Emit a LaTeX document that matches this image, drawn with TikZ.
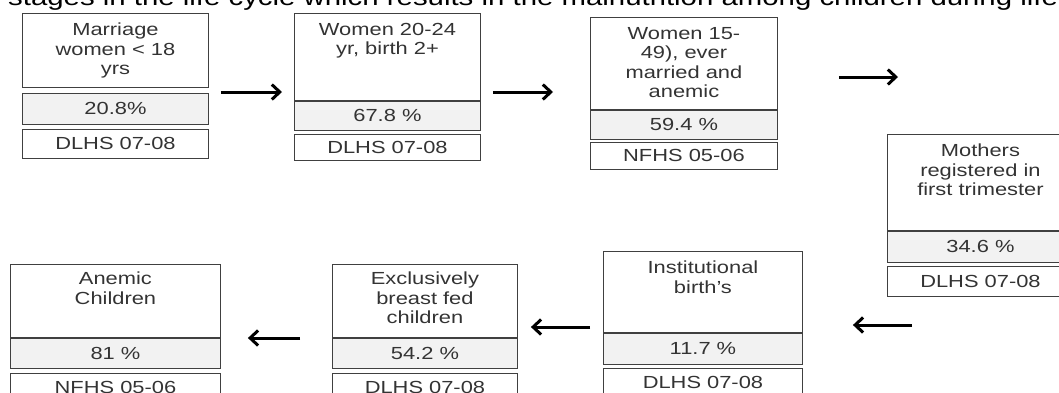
\documentclass[tikz,border=0pt]{standalone}
\usepackage{fontspec}
\setmainfont{Liberation Sans}[FakeStretch=1.25]
\usetikzlibrary{arrows.meta, positioning}
\definecolor{linegray}{HTML}{404040}
\definecolor{textgray}{HTML}{333333}
\definecolor{valgray}{HTML}{F2F2F2}

\begin{document}
\begin{tikzpicture}[
    x=1pt, y=-1pt,
    font=\fontsize{17.5}{19.5}\selectfont,
    node distance=0pt,
    stagebox/.style={draw=linegray, line width=0.9pt, inner sep=0pt, text=textgray,
                     align=center, minimum width=186pt},
    valbox/.style={stagebox, fill=valgray},
    stagetext/.style={inner sep=0pt, align=center, text=textgray},
    ar/.style={-{Straight Barb[length=8pt, width=15pt]}, line width=3pt, black}
]
\useasboundingbox (0,0) rectangle (1059,392);
% heading line (cut off at the top)
\node[anchor=base west, inner sep=0pt, font=\fontsize{23.5}{26}\selectfont] (title) at (8,5)
    {stages in the life cycle which results in the malnutrition among children during life};

% Top row
\node[stagebox, anchor=north west, minimum height=74pt] (marr) at (22,13) {};
\node[stagetext, below=10pt of marr.north] (marrtxt) {Marriage\\women < 18\\yrs};
\node[valbox, below=5pt of marr, minimum height=31pt] (marrval) {20.8\%};
\node[stagebox, below=4pt of marrval, minimum height=29pt] (marrsrc) {DLHS 07-08};

\node[stagebox, anchor=north west, minimum height=87pt] (wtw) at (294,13) {};
\node[stagetext, below=10pt of wtw.north] (wtwtxt) {Women 20-24\\yr, birth 2+};
\node[valbox, below=0pt of wtw, minimum height=29pt] (wtwval) {67.8 \%};
\node[stagebox, below=3pt of wtwval, minimum height=26pt] (wtwsrc) {DLHS 07-08};

\node[stagebox, anchor=north west, minimum height=92pt, minimum width=187pt] (wff) at (590,17) {};
\node[stagetext, below=10pt of wff.north] (wfftxt) {Women 15-\\49), ever\\married and\\anemic};
\node[valbox, below=0pt of wff, minimum height=29pt, minimum width=187pt] (wffval) {59.4 \%};
\node[stagebox, below=2pt of wffval, minimum height=27pt, minimum width=187pt] (wffsrc) {NFHS 05-06};

% right column
\node[stagebox, anchor=north west, minimum height=96pt] (moth) at (887,134) {};
\node[stagetext, below=10pt of moth.north] (mothtxt) {Mothers\\registered in\\first trimester};
\node[valbox, below=0pt of moth, minimum height=31pt] (mothval) {34.6 \%};
\node[stagebox, below=3pt of mothval, minimum height=30pt] (mothsrc) {DLHS 07-08};

% Bottom row (right to left)
\node[stagebox, anchor=north west, minimum height=81pt, minimum width=199pt] (inst) at (603,251) {};
\node[stagetext, below=10pt of inst.north] (insttxt) {Institutional\\birth's};
\node[valbox, below=0pt of inst, minimum height=31pt, minimum width=199pt] (instval) {11.7 \%};
\node[stagebox, below=3pt of instval, minimum height=29pt, minimum width=199pt] (instsrc) {DLHS 07-08};

\node[stagebox, anchor=north west, minimum height=73pt, minimum width=185pt] (excl) at (332,264) {};
\node[stagetext, below=8pt of excl.north] (excltxt) {Exclusively\\breast fed\\children};
\node[valbox, below=0pt of excl, minimum height=30pt, minimum width=185pt] (exclval) {54.2 \%};
\node[stagebox, below=4pt of exclval, minimum height=29pt, minimum width=185pt] (exclsrc) {DLHS 07-08};

\node[stagebox, anchor=north west, minimum height=73pt, minimum width=210pt] (anem) at (10,264) {};
\node[stagetext, below=8pt of anem.north] (anemtxt) {Anemic\\Children};
\node[valbox, below=0pt of anem, minimum height=30pt, minimum width=210pt] (anemval) {81 \%};
\node[stagebox, below=4pt of anemval, minimum height=29pt, minimum width=210pt] (anemsrc) {NFHS 05-06};

% arrows
\draw[ar] ([xshift=12pt]marr.east |- 0,92) -- ([xshift=-12pt]wtw.west |- 0,92);
\draw[ar] ([xshift=12pt]wtw.east |- 0,92) -- ([xshift=-37pt]wff.west |- 0,92);
\draw[ar] ([xshift=61pt]wff.east |- 0,77) -- ([xshift=11pt]moth.west |- 0,77);
\draw[ar] ([xshift=25pt]moth.west |- 0,325) -- ([xshift=50pt]inst.east |- 0,325);
\draw[ar] ([xshift=-13pt]inst.west |- 0,327) -- ([xshift=13pt]excl.east |- 0,327);
\draw[ar] ([xshift=-32pt]excl.west |- 0,338) -- ([xshift=27pt]anem.east |- 0,338);
\end{tikzpicture}
\end{document}
